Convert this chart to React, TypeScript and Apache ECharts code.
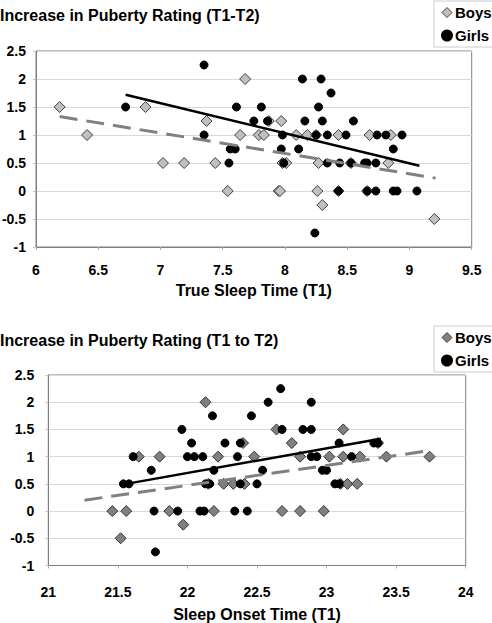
import React, { useEffect, useRef } from "react";
import * as echarts from "echarts";

const yTicks = [-1, -0.5, 0, 0.5, 1, 1.5, 2, 2.5];

// Top chart: True Sleep Time (T1) vs Increase in Puberty Rating
const boysTop: [number, number][] = [
  [6.19, 1.5], [6.41, 1.0], [6.88, 1.5], [7.02, 0.5], [7.19, 0.5], [7.37, 1.25],
  [7.44, 0.5], [7.54, 0], [7.64, 1.0], [7.68, 2.0], [7.79, 1.0], [7.83, 1.0],
  [7.87, 1.25], [7.97, 1.25], [8.09, 1.0], [8.18, 1.0], [8.25, 1.0], [8.43, 1.0],
  [8.68, 1.0], [8.85, 1.0], [7.98, 0.5], [8.01, 0.5], [8.27, 0.5], [8.53, 0.5],
  [8.83, 0.5], [7.95, 0], [7.96, 0], [8.26, 0], [8.43, 0], [8.66, 0],
  [8.3, -0.25], [9.2, -0.5],
];
const girlsTop: [number, number][] = [
  [6.72, 1.5], [7.35, 2.25], [7.35, 1.0], [7.55, 0.5], [7.56, 0.75], [7.6, 0.75],
  [7.61, 1.5], [7.75, 1.25], [7.81, 1.5], [7.86, 1.25], [8.14, 2.0], [8.29, 2.0],
  [8.37, 1.75], [8.27, 1.5], [8.16, 1.25], [8.3, 1.25], [8.55, 1.25], [7.98, 1.0],
  [8.25, 1.0], [8.34, 1.0], [8.49, 1.0], [8.74, 1.0], [8.81, 1.0], [8.94, 1.0],
  [7.97, 0.75], [8.11, 0.75], [8.87, 0.75], [7.99, 0.5], [8.34, 0.5], [8.44, 0.5],
  [8.53, 0.5], [8.64, 0.5], [8.66, 0.5], [8.73, 0.5], [8.43, 0], [8.66, 0],
  [8.73, 0], [8.87, 0], [8.9, 0], [9.06, 0], [8.24, -0.75],
];
const girlsTopTrend: [number, number][] = [[6.72, 1.72], [9.08, 0.45]];
const boysTopTrend: [number, number][] = [[6.19, 1.33], [9.21, 0.23]];

// Bottom chart: Sleep Onset Time (T1) vs Increase in Puberty Rating
const boysBottom: [number, number][] = [
  [21.46, 0], [21.56, 0], [21.52, -0.5], [21.65, 1.0], [21.8, 1.0], [21.87, 0],
  [21.97, -0.25], [22.13, 2.0], [22.22, 1.0], [22.4, 1.25], [22.48, 1.0], [22.19, 0],
  [22.15, 0.5], [22.26, 0.5], [22.33, 0.5], [22.41, 0.5], [22.64, 1.5], [23.12, 1.5],
  [22.75, 1.25], [22.81, 1.0], [23.02, 1.0], [23.12, 1.0], [23.24, 1.0], [23.43, 1.0],
  [23.74, 1.0], [23.37, 1.25], [23.1, 0.5], [23.15, 0.5], [23.22, 0.5], [22.68, 0],
  [22.81, 0], [22.98, 0],
];
const girlsBottom: [number, number][] = [
  [21.61, 1.0], [21.54, 0.5], [21.58, 0.5], [21.74, 0.75], [21.76, 0], [21.77, -0.75],
  [21.93, 0], [21.96, 1.5], [22.03, 1.25], [22.0, 1.0], [22.05, 1.0], [22.11, 1.0],
  [22.09, 0], [22.12, 0], [22.13, 0.5], [22.16, 0.5], [22.18, 1.75], [22.19, 0.75],
  [22.27, 1.25], [22.38, 1.25], [22.36, 1.0], [22.46, 1.75], [22.38, 0.5], [22.34, 0],
  [22.43, 0], [22.5, 0.5], [22.54, 0.75], [22.58, 2.0], [22.67, 2.25], [22.68, 1.5],
  [22.83, 1.5], [22.89, 1.5], [22.89, 2.0], [23.09, 1.25], [23.34, 1.25], [23.37, 1.25],
  [22.89, 1.0], [22.93, 1.0], [23.18, 1.0], [22.97, 0.75], [23.0, 0.75], [23.06, 0.5],
  [23.09, 0.5],
];
const girlsBottomTrend: [number, number][] = [[21.56, 0.5], [23.39, 1.33]];
const boysBottomTrend: [number, number][] = [[21.26, 0.2], [23.74, 1.11]];

const titles = ["Increase in Puberty Rating (T1-T2)", "Increase in Puberty Rating (T1 to T2)"];
const xNames = ["True Sleep Time (T1)", "Sleep Onset Time (T1)"];
const legendNames = ["Boys", "Girls"];

const FONT = 'Arial, "Liberation Sans", Helvetica, sans-serif';
const GRID_LINE = "#d9d9d9";
const AXIS = "#808080";

export default function App() {
  const ref = useRef<HTMLDivElement>(null);
  useEffect(() => {
    if (!ref.current) return;
    const chart = echarts.init(ref.current, undefined, { renderer: "svg" });

    const xAxisBase = (min: number, max: number, gridIndex: number, name: string, gap: number, margin: number) => ({
      type: "value",
      gridIndex,
      min,
      max,
      interval: 0.5,
      name,
      nameLocation: "middle",
      nameGap: gap,
      nameTextStyle: { fontFamily: FONT, fontWeight: "bold", fontSize: 16, color: "#000" },
      axisLine: { show: true, onZero: false, lineStyle: { color: AXIS } },
      axisTick: { show: true, length: 3, lineStyle: { color: "#b0b0b0" } },
      axisLabel: { margin, fontFamily: FONT, fontWeight: "bold", fontSize: 14, color: "#000" },
      splitLine: { show: false },
    });
    const yAxisBase = (gridIndex: number, margin: number) => ({
      type: "value",
      gridIndex,
      min: yTicks[0],
      max: yTicks[yTicks.length - 1],
      interval: 0.5,
      axisLine: { show: true, onZero: false, lineStyle: { color: AXIS } },
      axisTick: { show: true, length: 3, lineStyle: { color: "#c8c8c8" } },
      axisLabel: { margin, fontFamily: FONT, fontWeight: "bold", fontSize: 14, color: "#000" },
      splitLine: { show: true, lineStyle: { color: GRID_LINE, width: 1 } },
    });

    const scatter = (name: string, data: [number, number][], idx: number, symbol: string, size: number, color: string, border: string) => ({
      type: "scatter",
      name,
      xAxisIndex: idx,
      yAxisIndex: idx,
      data,
      symbol,
      symbolSize: size,
      itemStyle: { color, borderColor: border, borderWidth: 1, opacity: 1 },
      emphasis: { disabled: true },
    });
    const trend = (name: string, data: [number, number][], idx: number, color: string, width: number, dashed: boolean) => ({
      type: "line",
      name,
      xAxisIndex: idx,
      yAxisIndex: idx,
      data,
      symbol: "none",
      lineStyle: { color, width, type: dashed ? [18, 9] : "solid" },
      z: 5,
    });

    const legend = (top: number, boysColor: string) => ({
      orient: "vertical",
      left: 434,
      top,
      padding: [4, 12, 4, 7],
      itemGap: 8,
      itemWidth: 10,
      itemHeight: 10,
      borderColor: "#cccccc",
      borderWidth: 1,
      backgroundColor: "#fff",
      textStyle: { fontFamily: FONT, fontWeight: "bold", fontSize: 15, color: "#000", padding: [0, 0, 0, -2] },
      data: [
        { name: legendNames[0], icon: "diamond", itemStyle: { color: boysColor, borderColor: "#404040", borderWidth: 1 } },
        { name: legendNames[1], icon: "circle", itemStyle: { color: "#000", borderColor: "#000" } },
      ],
      selectedMode: false,
    });

    chart.setOption({
      animation: false,
      backgroundColor: "#fff",
      textStyle: { fontFamily: FONT },
      title: [
        { text: titles[0], left: 0, top: 7, padding: 0, textStyle: { fontFamily: FONT, fontWeight: "bold", fontSize: 16, color: "#000" } },
        { text: titles[1], left: 0, top: 332, padding: 0, textStyle: { fontFamily: FONT, fontWeight: "bold", fontSize: 16, color: "#000" } },
      ],
      legend: [legend(1, "#c0c0c0"), legend(326, "#808080")],
      grid: [
        { left: 36, top: 51, width: 435.7, height: 196, show: true, borderColor: AXIS, borderWidth: 1, backgroundColor: "transparent", outerBoundsMode: "none", containLabel: false },
        { left: 48.3, top: 375, width: 417.4, height: 190.5, show: true, borderColor: AXIS, borderWidth: 1, backgroundColor: "transparent", outerBoundsMode: "none", containLabel: false },
      ],
      xAxis: [
        xAxisBase(6, 9.5, 0, xNames[0], 35, 16),
        xAxisBase(21, 24, 1, xNames[1], 41, 19),
      ],
      yAxis: [yAxisBase(0, 10), yAxisBase(1, 14)],
      series: [
        scatter(legendNames[0], boysTop, 0, "diamond", 11, "#c0c0c0", "#404040"),
        scatter(legendNames[1], girlsTop, 0, "circle", 8, "#000", "#000"),
        trend("Girls trend T", girlsTopTrend, 0, "#000", 2.5, false),
        trend("Boys trend T", boysTopTrend, 0, "#808080", 3, true),
        scatter(legendNames[0], boysBottom, 1, "diamond", 11, "#808080", "#333333"),
        scatter(legendNames[1], girlsBottom, 1, "circle", 8, "#000", "#000"),
        trend("Girls trend B", girlsBottomTrend, 1, "#000", 2.5, false),
        trend("Boys trend B", boysBottomTrend, 1, "#808080", 3, true),
      ],
    });
    return () => chart.dispose();
  }, []);
  return (
    <div
      ref={ref}
      style={{ position: "fixed", left: 0, top: 0, width: 492, height: 623, background: "#fff" }}
    />
  );
}
